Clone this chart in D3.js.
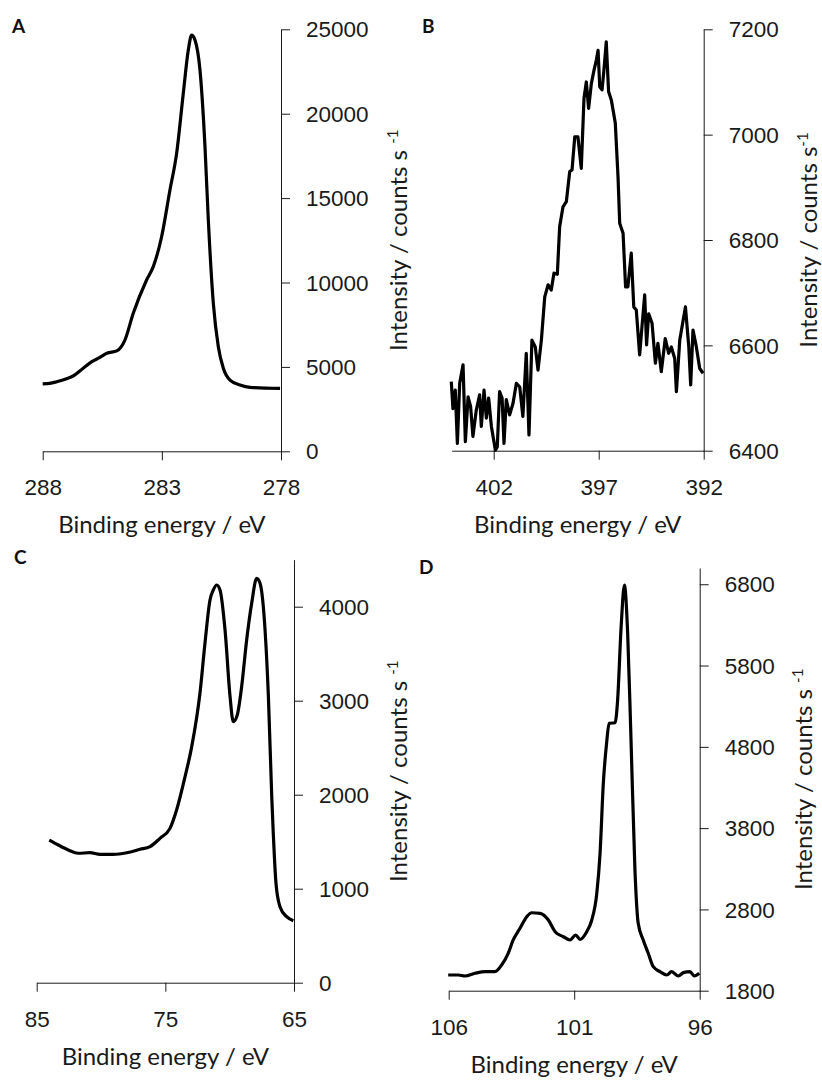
<!DOCTYPE html>
<html>
<head>
<meta charset="utf-8">
<script src="https://cdn.jsdelivr.net/npm/d3@7"></script>
<style>
  body { margin: 0; background: #fff; }
  svg { display: block; font-family: Lato, "Open Sans", sans-serif; }
  .tick text { font-size: 22.5px; fill: #1a1a1a; }
  .axis path, .axis line { stroke: #1a1a1a; stroke-width: 1; }
  .title { font-size: 24px; fill: #1a1a1a; }
  .label { font-size: 19px; font-weight: bold; fill: #111; }
</style>
</head>
<body>
<svg id="chart" width="822" height="1082"></svg>
<script>
// panel A - C 1s
const aEnergy = [288.0, 287.7, 287.41, 287.0, 286.72, 286.30, 285.94, 285.60, 285.31, 284.89, 284.55, 284.20, 283.64, 283.36, 283.01, 282.66, 282.38, 282.10, 281.89, 281.75, 281.61, 281.40, 281.19, 281.05, 280.84, 280.63, 280.42, 280.14, 279.72, 279.30, 278.04];
const aCounts = [3990, 4020, 4120, 4300, 4460, 4920, 5310, 5560, 5810, 5950, 6590, 8175, 10150, 10940, 12710, 15480, 17650, 21210, 23770, 24660, 24370, 22590, 18050, 13700, 8770, 6200, 4920, 4220, 3930, 3790, 3730];

// panel B - N 1s
const bEnergy = [404.02, 403.94, 403.83, 403.73, 403.62, 403.46, 403.35, 403.22, 403.10, 402.99, 402.83, 402.67, 402.59, 402.46, 402.35, 402.24, 402.11, 401.92, 401.83, 401.72, 401.60, 401.51, 401.40, 401.24, 401.08, 400.92, 400.76, 400.61, 400.45, 400.32, 400.18, 400.02, 399.89, 399.73, 399.57, 399.41, 399.26, 399.13, 398.97, 398.86, 398.70, 398.54, 398.38, 398.27, 398.14, 397.99, 397.83, 397.70, 397.59, 397.48, 397.35, 397.22, 397.11, 397.03, 396.95, 396.84, 396.75, 396.64, 396.53, 396.40, 396.21, 396.08, 396.00, 395.84, 395.72, 395.61, 395.45, 395.33, 395.21, 395.05, 394.94, 394.81, 394.72, 394.62, 394.46, 394.30, 394.18, 394.02, 393.83, 393.67, 393.54, 393.38, 393.30, 393.14, 392.87, 392.71, 392.62, 392.51, 392.35, 392.19, 392.03];
const bCounts = [6531, 6480, 6515, 6414, 6528, 6563, 6417, 6502, 6484, 6427, 6477, 6506, 6446, 6515, 6462, 6500, 6446, 6401, 6407, 6512, 6500, 6414, 6497, 6468, 6490, 6528, 6521, 6465, 6585, 6430, 6610, 6597, 6553, 6610, 6692, 6715, 6705, 6737, 6735, 6825, 6863, 6873, 6930, 6933, 6996, 6996, 6936, 7069, 7100, 7050, 7097, 7123, 7142, 7160, 7091, 7085, 7123, 7176, 7082, 7066, 7022, 6920, 6832, 6813, 6711, 6711, 6775, 6673, 6667, 6582, 6635, 6696, 6601, 6660, 6642, 6566, 6604, 6550, 6613, 6585, 6597, 6575, 6512, 6610, 6673, 6597, 6525, 6629, 6597, 6556, 6547];

// panel C - Se 3d
const cEnergy = [84.02, 83.32, 82.54, 81.77, 80.86, 80.08, 79.05, 78.00, 76.97, 76.19, 75.42, 74.64, 74.12, 73.47, 72.95, 72.31, 71.92, 71.53, 71.27, 71.01, 70.75, 70.36, 69.97, 69.72, 69.41, 69.07, 68.68, 68.29, 67.90, 67.64, 67.25, 66.99, 66.73, 66.61, 66.40, 66.09, 65.57, 65.05];
const cCounts = [1518, 1465, 1412, 1377, 1383, 1366, 1366, 1383, 1419, 1447, 1536, 1642, 1840, 2191, 2511, 3079, 3611, 4071, 4178, 4231, 4178, 3752, 3043, 2777, 2848, 3149, 3646, 4036, 4302, 4249, 3752, 3043, 1979, 1589, 1057, 809, 702, 660];

// panel D - Si 2p
const dEnergy = [106.02, 105.62, 105.35, 104.95, 104.55, 104.16, 103.89, 103.63, 103.43, 103.16, 102.89, 102.69, 102.36, 102.03, 101.76, 101.43, 101.17, 100.94, 100.77, 100.50, 100.30, 100.10, 99.97, 99.84, 99.71, 99.61, 99.37, 99.27, 99.13, 99.00, 98.87, 98.74, 98.58, 98.45, 98.25, 98.05, 97.85, 97.58, 97.31, 97.12, 96.85, 96.65, 96.39, 96.21, 96.02];
const dCounts = [1993, 1993, 1981, 2014, 2034, 2034, 2116, 2260, 2424, 2568, 2710, 2759, 2752, 2670, 2526, 2464, 2424, 2485, 2432, 2526, 2670, 2998, 3490, 4351, 4843, 5089, 5097, 5376, 6277, 6790, 6196, 4924, 3285, 2629, 2424, 2260, 2095, 2034, 1993, 2034, 1981, 2022, 2034, 1981, 2014];

const aXTicks = [288, 283, 278], aYTicks = [0, 5000, 10000, 15000, 20000, 25000];
const bXTicks = [402, 397, 392], bYTicks = [6400, 6600, 6800, 7000, 7200];
const cXTicks = [85, 75, 65], cYTicks = [0, 1000, 2000, 3000, 4000];
const dXTicks = [106, 101, 96], dYTicks = [1800, 2800, 3800, 4800, 5800, 6800];

const svg = d3.select("#chart");

function panel(opt) {
    const x = d3.scaleLinear().domain(opt.xDomain).range([opt.left, opt.right]);
    const y = d3.scaleLinear().domain(opt.yDomain).range([opt.bottom, opt.top]);
    const g = svg.append("g");

    const xAxis = g.append("g")
        .attr("class", "axis")
        .attr("transform", `translate(0,${opt.bottom})`)
        .call(d3.axisBottom(x).tickValues(opt.xTicks).tickSize(9).tickSizeOuter(0).tickFormat(d3.format("d")));
    xAxis.selectAll("text").attr("y", 44).attr("dy", null);

    const yAxis = g.append("g")
        .attr("class", "axis")
        .attr("transform", `translate(${opt.right},0)`)
        .call(d3.axisRight(y).tickValues(opt.yTicks).tickSize(9).tickSizeOuter(0).tickFormat(d3.format("d")));
    yAxis.selectAll("text").attr("x", 25).attr("dy", "0.34em");

    const pts = opt.energy.map((e, i) => [e, opt.counts[i]]);
    const line = d3.line()
        .x(d => x(d[0]))
        .y(d => y(d[1]))
        .curve(opt.curve);
    g.append("path")
        .datum(pts)
        .attr("d", line)
        .attr("fill", "none")
        .attr("stroke", "#000")
        .attr("stroke-width", 3.2)
        .attr("stroke-linejoin", "round");

    g.append("text")
        .attr("class", "title")
        .attr("x", (opt.left + opt.right) / 2)
        .attr("y", opt.bottom + 82)
        .attr("text-anchor", "middle")
        .text("Binding energy / eV");

    const yt = g.append("text")
        .attr("class", "title")
        .attr("text-anchor", "middle")
        .attr("transform", `translate(${opt.yTitleX},${(opt.top + opt.bottom) / 2}) rotate(-90)`);
    yt.append("tspan").text("Intensity / counts s" + opt.gap);
    yt.append("tspan").attr("dy", -9).style("font-size", "15px").text("-1");

    g.append("text")
        .attr("class", "label")
        .attr("x", opt.labelX)
        .attr("y", opt.labelY)
        .text(opt.label);
}

panel({ energy: aEnergy, counts: aCounts, xDomain: [288, 278], yDomain: [0, 25000], xTicks: aXTicks, yTicks: aYTicks,
    left: 42.7, right: 281, top: 29.3, bottom: 451.3, yTitleX: 407, gap: " ", label: "A", labelX: 12, labelY: 33, curve: d3.curveMonotoneX });
panel({ energy: bEnergy, counts: bCounts, xDomain: [404, 392], yDomain: [6400, 7200], xTicks: bXTicks, yTicks: bYTicks,
    left: 451.7, right: 703.7, top: 29.3, bottom: 450.7, yTitleX: 817, gap: "", label: "B", labelX: 422, labelY: 33, curve: d3.curveLinear });
panel({ energy: cEnergy, counts: cCounts, xDomain: [85, 65], yDomain: [0, 4500], xTicks: cXTicks, yTicks: cYTicks,
    left: 36.7, right: 294, top: 559.7, bottom: 982.7, yTitleX: 407, gap: " ", label: "C", labelX: 14, labelY: 564, curve: d3.curveMonotoneX });
panel({ energy: dEnergy, counts: dCounts, xDomain: [106, 96], yDomain: [1800, 7000], xTicks: dXTicks, yTicks: dYTicks,
    left: 448.7, right: 699.7, top: 568, bottom: 990.7, yTitleX: 812, gap: " ", label: "D", labelX: 419, labelY: 574, curve: d3.curveMonotoneX });
</script>
</body>
</html>
